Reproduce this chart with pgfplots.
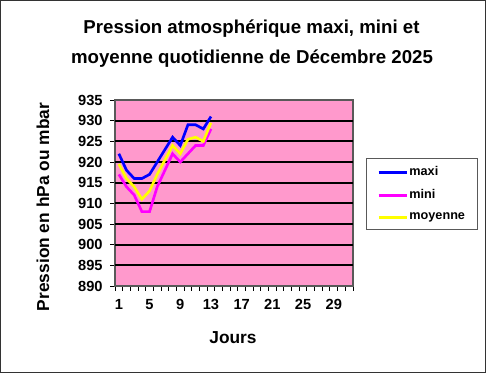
\documentclass[border=0pt]{standalone}
\usepackage{pgfplots}
\pgfplotsset{compat=1.18}
\usepackage{fontspec}
\setmainfont{Liberation Sans}
\definecolor{plotpink}{RGB}{255,153,204}
\definecolor{maxic}{RGB}{0,0,255}
\definecolor{minic}{RGB}{255,0,255}
\definecolor{moyc}{RGB}{255,255,0}
\begin{document}
\begin{tikzpicture}[x=0.75pt,y=0.75pt]
\draw[black!80, line width=0.8pt, fill=white] (0.5,0.5) rectangle (485.5,372.5);
\node[anchor=base, font=\bfseries\fontsize{14}{16}\selectfont] at (251.5,340) {Pression atmosphérique maxi, mini et};
\node[anchor=base, font=\bfseries\fontsize{14}{16}\selectfont] at (252,310) {moyenne quotidienne de Décembre 2025};
\node[anchor=base, font=\bfseries\fontsize{13}{15}\selectfont] at (233,29) {Jours};
\node[rotate=90, font=\bfseries\fontsize{13}{15}\selectfont] at (43,166) {Pression en hPa ou mbar};
\begin{axis}[
  at={(115pt*0.75,87pt*0.75)}, anchor=south west,
  scale only axis, width=178.5pt, height=139.5pt,
  xmin=0.5, xmax=31.5, ymin=890, ymax=935,
  axis background/.style={fill=plotpink},
  axis line style={draw=gray!70!black, line width=0.8pt},
  xtick={1,5,...,29},
  minor xtick={0.5,1.5,...,31.5},
  ytick={890,895,...,935},
  xtick pos=bottom, ytick pos=left,
  tick align=outside,
  major tick length=3.75pt, minor tick length=3.75pt,
  every major x tick/.append style={draw=none},
  every tick/.style={black, line width=0.7pt},
  extra y ticks={895,900,...,930},
  extra y tick labels={},
  extra y tick style={grid=major, major grid style={black, line width=1.5pt}, major tick length=0pt},
  ticklabel style={font=\bfseries\fontsize{11}{13}\selectfont},
  yticklabel style={xshift=-2pt},
  xticklabel style={yshift=-3pt},
  /pgf/number format/assume math mode=true,
  /pgf/number format/set thousands separator={},
  legend cell align=left,
  legend image code/.code={\draw[#1, line width=2.2pt] (0pt,0pt) -- (21pt,0pt);},
  legend style={at={(1.0546,0.688)}, anchor=north west, draw=gray!70!black, line width=0.8pt, fill=white,
    font=\bfseries\fontsize{9.5}{11.4}\selectfont, inner xsep=8pt, inner ysep=5pt, row sep=7pt,
    nodes={inner sep=1pt}},
]
\addplot[maxic, line width=2pt] coordinates {
(1,922) (2,918) (3,916) (4,916) (5,917) (6,920) (7,923) (8,926) (9,924) (10,929) (11,929) (12,928) (13,931)};
\addlegendentry{maxi}
\addplot[minic, line width=2pt] coordinates {
(1,917) (2,914) (3,912) (4,908) (5,908) (6,914) (7,918) (8,922) (9,920) (10,922) (11,924) (12,924) (13,928)};
\addlegendentry{mini}
\addplot[moyc, line width=2pt] coordinates {
(1,919.5) (2,916) (3,914) (4,911) (5,913) (6,917) (7,920.5) (8,924) (9,922) (10,925.5) (11,926) (12,925) (13,929.5)};
\addlegendentry{moyenne}
\end{axis}
\end{tikzpicture}
\end{document}
